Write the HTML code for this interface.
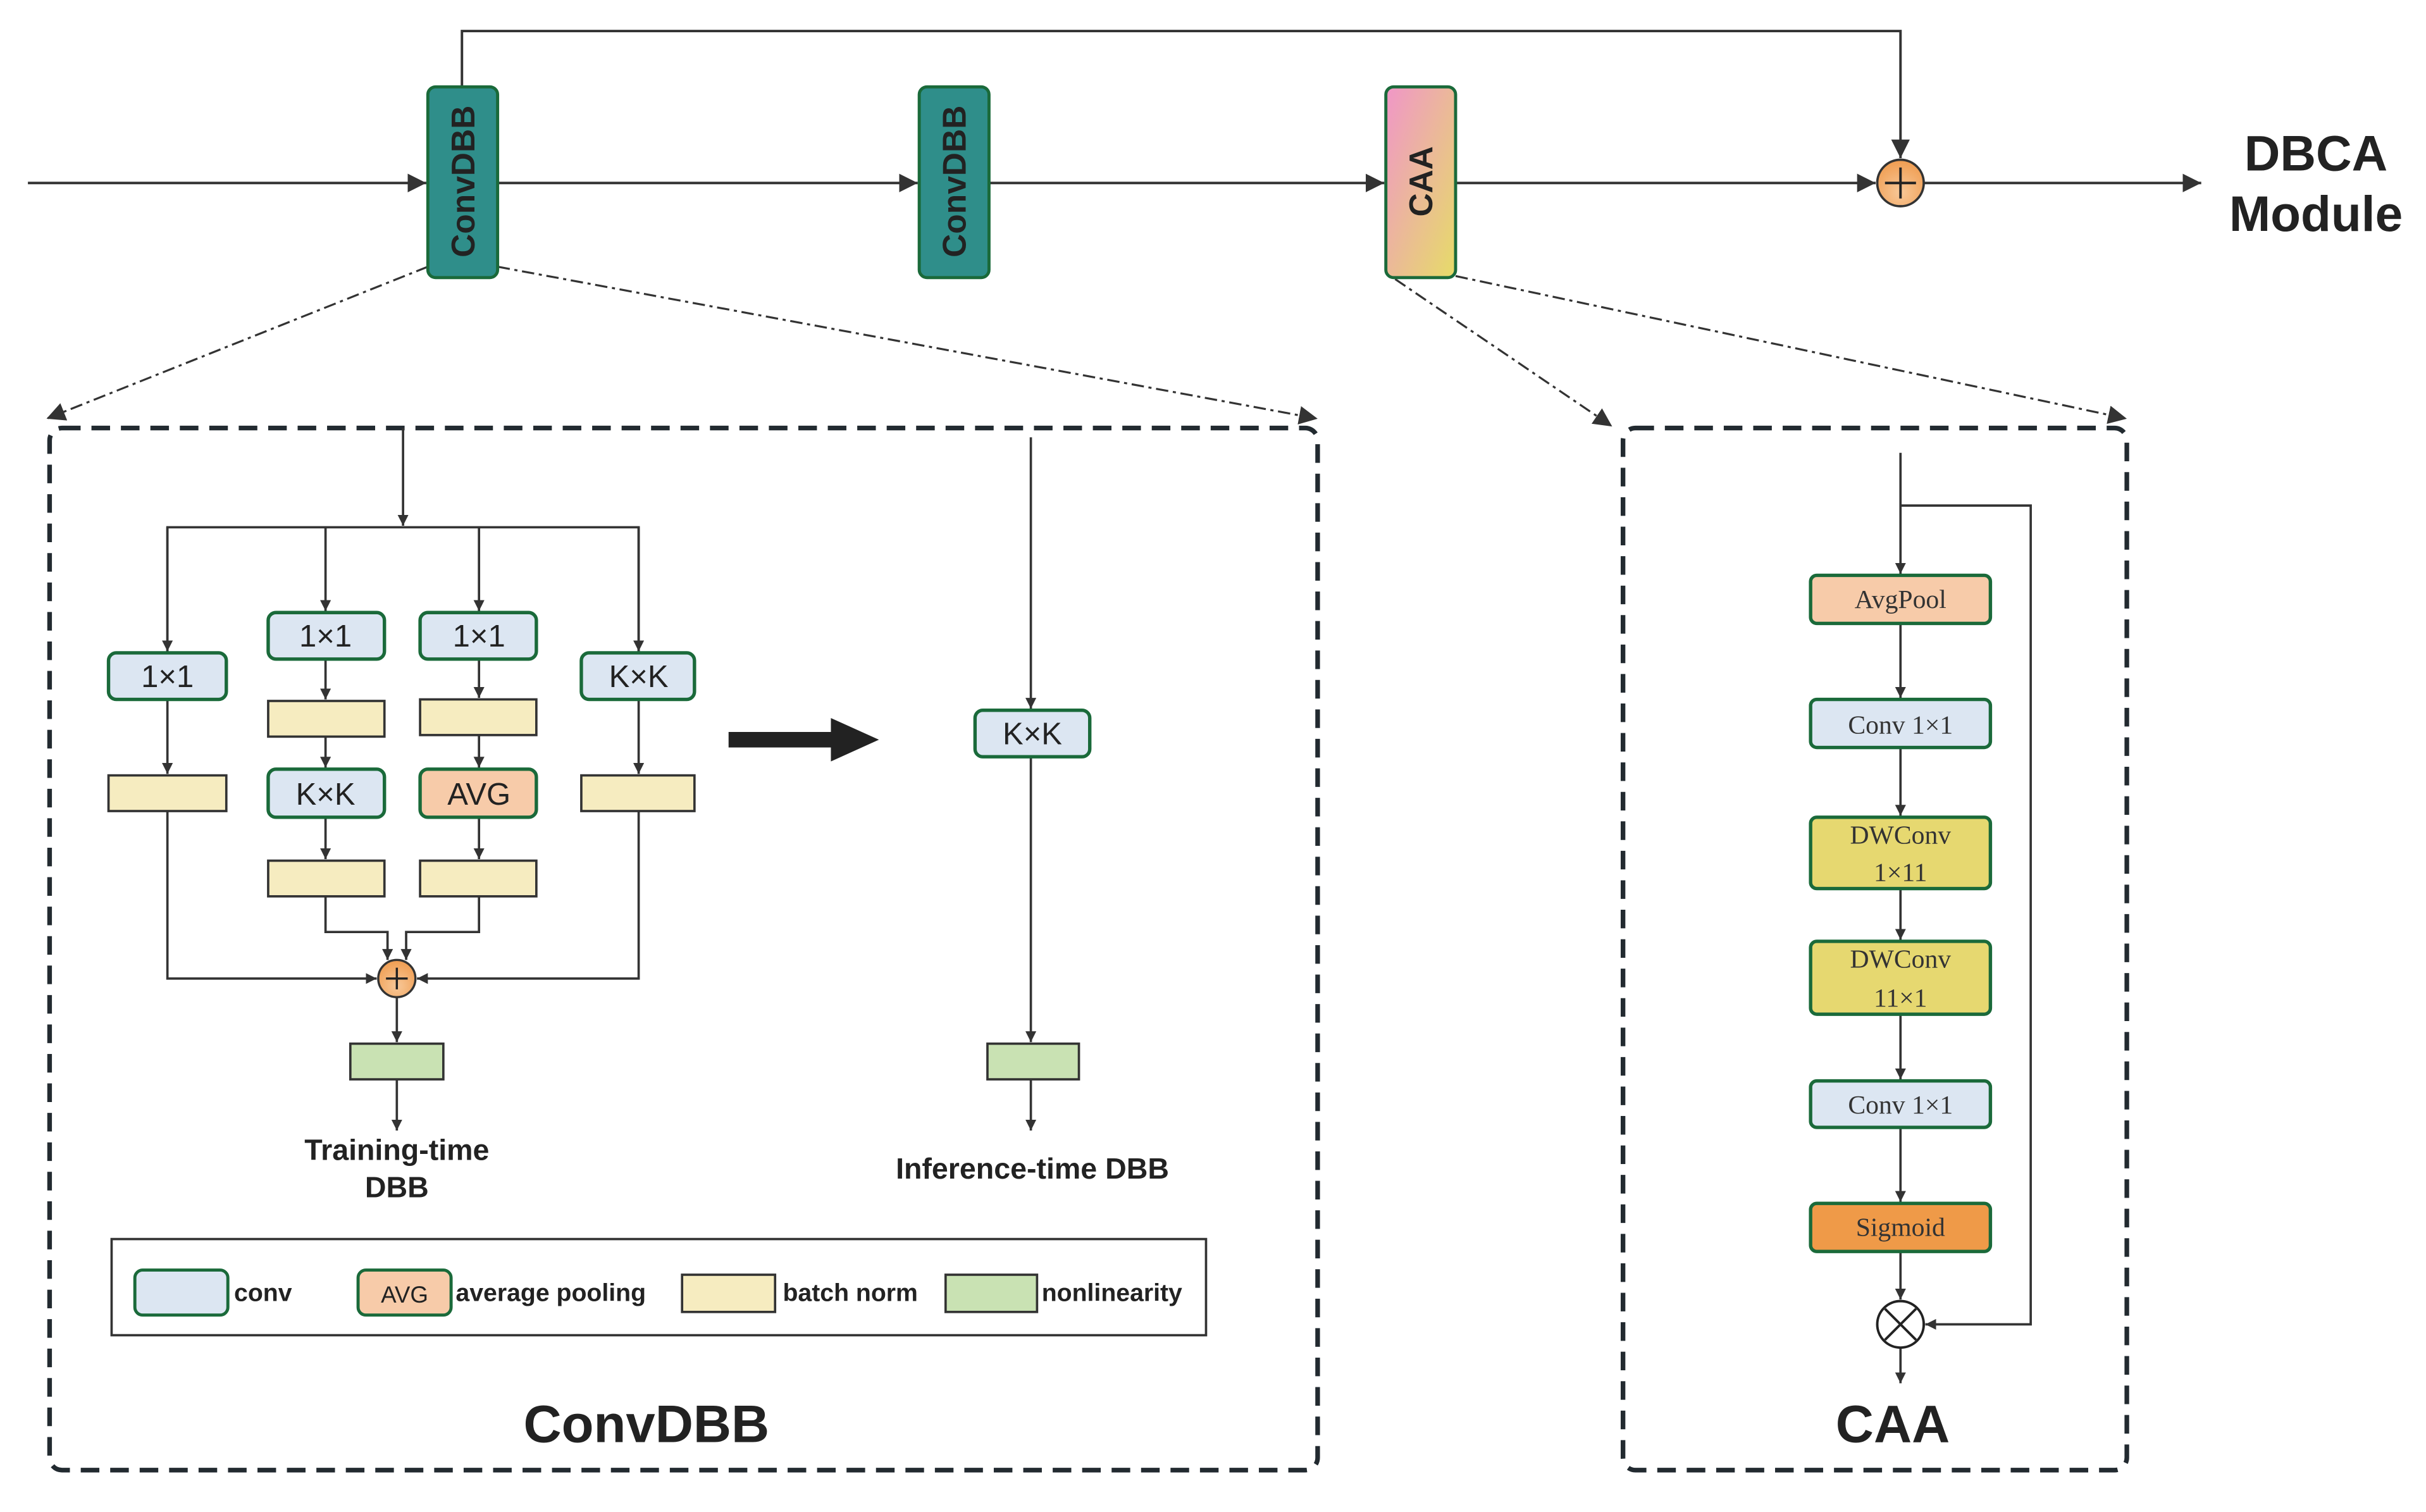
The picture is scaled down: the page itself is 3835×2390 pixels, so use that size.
<!DOCTYPE html>
<html><head><meta charset="utf-8"><style>
html,body{margin:0;padding:0;background:#fff;}
svg{display:block;}
.s{font-family:"Liberation Sans","DejaVu Sans",sans-serif;}
.r{font-family:"Liberation Serif",serif;}
</style></head><body>
<svg width="3835" height="2390" viewBox="0 0 1565 975" preserveAspectRatio="none" xmlns="http://www.w3.org/2000/svg">
<defs>
<marker id="a" viewBox="0 0 10 10" refX="10" refY="5" markerWidth="7" markerHeight="7" orient="auto-start-reverse" markerUnits="userSpaceOnUse"><path d="M0,0 L10,5 L0,10 z" fill="#333"/></marker>
<marker id="b" viewBox="0 0 10 10" refX="10" refY="5" markerWidth="12" markerHeight="12" orient="auto" markerUnits="userSpaceOnUse"><path d="M0,0 L10,5 L0,10 z" fill="#333"/></marker>
<linearGradient id="caa" x1="0" y1="0" x2="1" y2="1"><stop offset="0" stop-color="#f096c8"/><stop offset="1" stop-color="#e6dc68"/></linearGradient>
<radialGradient id="or" cx="0.5" cy="0.7" r="0.7"><stop offset="0" stop-color="#f8c898"/><stop offset="1" stop-color="#ef9c50"/></radialGradient>
</defs>
<g stroke="#333" stroke-width="1.6" fill="none">
<!-- top -->
<polyline points="298,56 298,20 1226,20 1226,102" marker-end="url(#b)"/>
<line x1="18" y1="118" x2="275" y2="118" marker-end="url(#b)"/>
<line x1="321" y1="118" x2="592" y2="118" marker-end="url(#b)"/>
<line x1="638" y1="118" x2="893" y2="118" marker-end="url(#b)"/>
<line x1="939" y1="118" x2="1210" y2="118" marker-end="url(#b)"/>
<line x1="1241" y1="118" x2="1420" y2="118" marker-end="url(#b)"/>
<g stroke-dasharray="8,3,2,3" stroke-width="1.3">
<line x1="276" y1="172" x2="30" y2="270" marker-end="url(#b)"/>
<line x1="321" y1="172" x2="850" y2="270" marker-end="url(#b)"/>
<line x1="900" y1="180" x2="1040" y2="275" marker-end="url(#b)"/>
<line x1="939" y1="178" x2="1372" y2="270" marker-end="url(#b)"/>
</g>
</g>
<rect x="276" y="56" width="45" height="123" rx="5" fill="#2f8e8a" stroke="#1a6a3a" stroke-width="2"/>
<rect x="593" y="56" width="45" height="123" rx="5" fill="#2f8e8a" stroke="#1a6a3a" stroke-width="2"/>
<rect x="894" y="56" width="45" height="123" rx="5" fill="url(#caa)" stroke="#1a6a3a" stroke-width="2"/>
<text class="s" transform="translate(306,117) rotate(-90)" text-anchor="middle" font-size="21" font-weight="bold" fill="#222">ConvDBB</text>
<text class="s" transform="translate(623,117) rotate(-90)" text-anchor="middle" font-size="21" font-weight="bold" fill="#222">ConvDBB</text>
<text class="s" transform="translate(924,117) rotate(-90)" text-anchor="middle" font-size="21" font-weight="bold" fill="#222">CAA</text>
<circle cx="1226" cy="118" r="15" fill="url(#or)" stroke="#333" stroke-width="1.5"/>
<path d="M1226,108 V128 M1216,118 H1236" stroke="#222" stroke-width="1.6"/>
<text class="s" x="1494" y="110" text-anchor="middle" font-size="32" font-weight="bold" fill="#222">DBCA</text>
<text class="s" x="1494" y="149" text-anchor="middle" font-size="32" font-weight="bold" fill="#222">Module</text>

<!-- dashed boxes -->
<rect x="32" y="276" width="818" height="672" rx="8" fill="none" stroke="#222a30" stroke-width="3" stroke-dasharray="12,7"/>
<rect x="1047" y="276" width="325" height="672" rx="8" fill="none" stroke="#222a30" stroke-width="3" stroke-dasharray="12,7"/>

<!-- Training-time DBB -->
<g stroke="#333" stroke-width="1.5" fill="none">
<line x1="260" y1="276" x2="260" y2="339" marker-end="url(#a)"/>
<polyline points="108,421 108,340 412,340 412,420" />
<line x1="108" y1="340" x2="108" y2="420" marker-end="url(#a)"/>
<line x1="412" y1="340" x2="412" y2="420" marker-end="url(#a)"/>
<line x1="210" y1="340" x2="210" y2="394" marker-end="url(#a)"/>
<line x1="309" y1="340" x2="309" y2="394" marker-end="url(#a)"/>
<line x1="108" y1="451" x2="108" y2="499" marker-end="url(#a)"/>
<line x1="412" y1="451" x2="412" y2="499" marker-end="url(#a)"/>
<line x1="210" y1="425" x2="210" y2="451" marker-end="url(#a)"/>
<line x1="309" y1="425" x2="309" y2="450" marker-end="url(#a)"/>
<line x1="210" y1="475" x2="210" y2="495" marker-end="url(#a)"/>
<line x1="309" y1="474" x2="309" y2="495" marker-end="url(#a)"/>
<line x1="210" y1="527" x2="210" y2="554" marker-end="url(#a)"/>
<line x1="309" y1="527" x2="309" y2="554" marker-end="url(#a)"/>
<polyline points="210,578 210,601 250,601 250,619" marker-end="url(#a)"/>
<polyline points="309,578 309,601 262,601 262,619" marker-end="url(#a)"/>
<polyline points="108,523 108,631 243,631" marker-end="url(#a)"/>
<polyline points="412,523 412,631 269,631" marker-end="url(#a)"/>
<line x1="256" y1="643" x2="256" y2="672" marker-end="url(#a)"/>
<line x1="256" y1="696" x2="256" y2="729" marker-end="url(#a)"/>
<!-- inference -->
<line x1="665" y1="282" x2="665" y2="457" marker-end="url(#a)"/>
<line x1="665" y1="488" x2="665" y2="672" marker-end="url(#a)"/>
<line x1="665" y1="696" x2="665" y2="729" marker-end="url(#a)"/>
</g>
<g stroke="#1a6a3a" stroke-width="2.2" fill="#dce6f2">
<rect x="70" y="421" width="76" height="30" rx="5"/>
<rect x="173" y="395" width="75" height="30" rx="5"/>
<rect x="271" y="395" width="75" height="30" rx="5"/>
<rect x="375" y="421" width="73" height="30" rx="5"/>
<rect x="173" y="496" width="75" height="31" rx="5"/>
<rect x="271" y="496" width="75" height="31" rx="5" fill="#f7cba9"/>
<rect x="629" y="458" width="74" height="30" rx="5"/>
</g>
<g stroke="#333" stroke-width="1.5" fill="#f6ecc0">
<rect x="173" y="452" width="75" height="23"/>
<rect x="271" y="451" width="75" height="23"/>
<rect x="70" y="500" width="76" height="23"/>
<rect x="375" y="500" width="73" height="23"/>
<rect x="173" y="555" width="75" height="23"/>
<rect x="271" y="555" width="75" height="23"/>
<rect x="226" y="673" width="60" height="23" fill="#c9e2b3"/>
<rect x="637" y="673" width="59" height="23" fill="#c9e2b3"/>
</g>
<g class="s" font-size="20" fill="#222" text-anchor="middle">
<text x="108" y="443">1×1</text>
<text x="210" y="417">1×1</text>
<text x="309" y="417">1×1</text>
<text x="412" y="443">K×K</text>
<text x="210" y="519">K×K</text>
<text x="309" y="519">AVG</text>
<text x="666" y="480">K×K</text>
</g>
<circle cx="256" cy="631" r="12" fill="url(#or)" stroke="#333" stroke-width="1.4"/>
<path d="M256,624 V638 M249,631 H263" stroke="#222" stroke-width="1.4"/>
<g class="s" font-size="19" font-weight="bold" fill="#222" text-anchor="middle">
<text x="256" y="748">Training-time</text>
<text x="256" y="772">DBB</text>
<text x="666" y="760">Inference-time DBB</text>
</g>
<!-- big arrow -->
<rect x="470" y="472" width="70" height="10" fill="#222"/>
<path d="M536,463 L567,477 L536,491 z" fill="#222"/>
<!-- legend -->
<rect x="72" y="799" width="706" height="62" fill="none" stroke="#333" stroke-width="1.5"/>
<rect x="87" y="819" width="60" height="29" rx="5" fill="#dce6f2" stroke="#1a6a3a" stroke-width="2"/>
<rect x="231" y="819" width="60" height="29" rx="5" fill="#f7cba9" stroke="#1a6a3a" stroke-width="2"/>
<rect x="440" y="822" width="60" height="24" fill="#f6ecc0" stroke="#333" stroke-width="1.5"/>
<rect x="610" y="822" width="59" height="24" fill="#c9e2b3" stroke="#333" stroke-width="1.5"/>
<text class="s" x="261" y="840" font-size="15" text-anchor="middle" fill="#222">AVG</text>
<g class="s" font-size="16" font-weight="bold" fill="#222">
<text x="151" y="839">conv</text>
<text x="294" y="839">average pooling</text>
<text x="505" y="839">batch norm</text>
<text x="672" y="839">nonlinearity</text>
</g>
<text class="s" x="417" y="930" font-size="34" font-weight="bold" fill="#222" text-anchor="middle">ConvDBB</text>

<!-- CAA -->
<g stroke="#333" stroke-width="1.5" fill="none">
<line x1="1226" y1="292" x2="1226" y2="370" marker-end="url(#a)"/>
<polyline points="1226,326 1310,326 1310,854 1242,854" marker-end="url(#a)"/>
<line x1="1226" y1="402" x2="1226" y2="450" marker-end="url(#a)"/>
<line x1="1226" y1="482" x2="1226" y2="526" marker-end="url(#a)"/>
<line x1="1226" y1="573" x2="1226" y2="606" marker-end="url(#a)"/>
<line x1="1226" y1="654" x2="1226" y2="696" marker-end="url(#a)"/>
<line x1="1226" y1="727" x2="1226" y2="775" marker-end="url(#a)"/>
<line x1="1226" y1="807" x2="1226" y2="838" marker-end="url(#a)"/>
<line x1="1226" y1="869" x2="1226" y2="892" marker-end="url(#a)"/>
</g>
<g stroke="#1a6a3a" stroke-width="2.2">
<rect x="1168" y="371" width="116" height="31" rx="4" fill="#f7cba9"/>
<rect x="1168" y="451" width="116" height="31" rx="4" fill="#dce6f2"/>
<rect x="1168" y="527" width="116" height="46" rx="4" fill="#e6d870"/>
<rect x="1168" y="607" width="116" height="47" rx="4" fill="#e6d870"/>
<rect x="1168" y="697" width="116" height="30" rx="4" fill="#dce6f2"/>
<rect x="1168" y="776" width="116" height="31" rx="4" fill="#ef9a48"/>
</g>
<g class="r" font-size="17" fill="#333" text-anchor="middle">
<text x="1226" y="392">AvgPool</text>
<text x="1226" y="473">Conv 1×1</text>
<text x="1226" y="544">DWConv</text>
<text x="1226" y="568">1×11</text>
<text x="1226" y="624">DWConv</text>
<text x="1226" y="649">11×1</text>
<text x="1226" y="718">Conv 1×1</text>
<text x="1226" y="797">Sigmoid</text>
</g>
<circle cx="1226" cy="854" r="15" fill="#fff" stroke="#222" stroke-width="1.6"/>
<path d="M1216,844 L1236,864 M1236,844 L1216,864" stroke="#222" stroke-width="1.6"/>
<text class="s" x="1221" y="930" font-size="34" font-weight="bold" fill="#222" text-anchor="middle">CAA</text>
</svg>
</body></html>
